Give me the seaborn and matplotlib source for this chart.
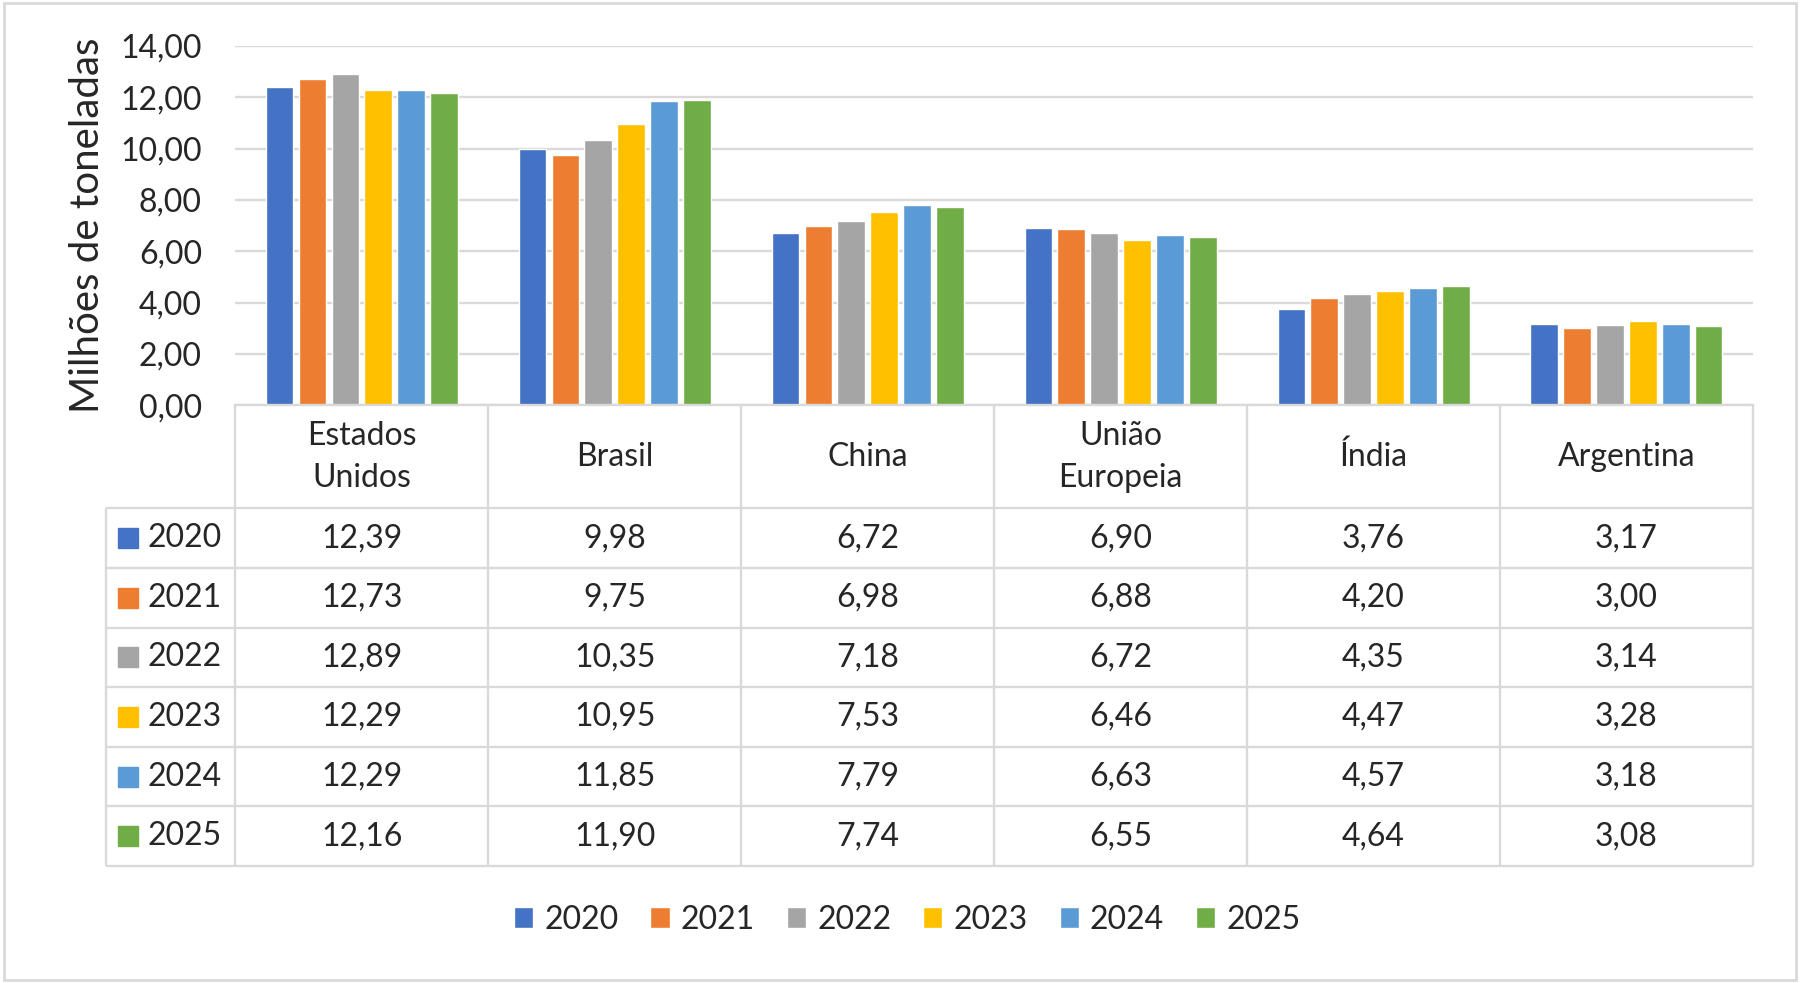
import matplotlib
matplotlib.use("Agg")
import matplotlib.pyplot as plt
import seaborn as sns
import pandas as pd
from matplotlib.patches import Rectangle

# dados
paises = ["Estados\nUnidos", "Brasil", "China", "União\nEuropeia", "Índia", "Argentina"]
anos = ["2020", "2021", "2022", "2023", "2024", "2025"]
v2020 = [12.39, 9.98, 6.72, 6.90, 3.76, 3.17]
v2021 = [12.73, 9.75, 6.98, 6.88, 4.20, 3.00]
v2022 = [12.89, 10.35, 7.18, 6.72, 4.35, 3.14]
v2023 = [12.29, 10.95, 7.53, 6.46, 4.47, 3.28]
v2024 = [12.29, 11.85, 7.79, 6.63, 4.57, 3.18]
v2025 = [12.16, 11.90, 7.74, 6.55, 4.64, 3.08]
y_ticks = [0, 2, 4, 6, 8, 10, 12, 14]
cores = ["#4472C4", "#ED7D31", "#A5A5A5", "#FFC000", "#5B9BD5", "#70AD47"]

series = [v2020, v2021, v2022, v2023, v2024, v2025]
linhas = []
for ano, vals in zip(anos, series):
    for p, v in zip(paises, vals):
        linhas.append({"pais": p, "ano": ano, "valor": v})
df = pd.DataFrame(linhas)


def fmt(v):
    return f"{v:.2f}".replace(".", ",")


sns.set_style("white")
plt.rcParams["font.family"] = ["Lato", "DejaVu Sans"]
grade = "#d9d9d9"
fs = 23

fig = plt.figure(figsize=(18, 9.83), dpi=100)
fig.patches.append(Rectangle((0.002, 0.003), 0.996, 0.994, transform=fig.transFigure,
                             fill=False, edgecolor=grade, lw=2))

W, H = 1568, 856
ax = fig.add_axes([205 / W, 1 - 353 / H, 1322 / W, 313 / H])
sns.barplot(data=df, x="pais", y="valor", hue="ano", palette=cores, width=0.78,
            gap=0.16, saturation=1, ax=ax)
ax.set_ylim(0, 14)
ax.set_xlim(-0.5, 5.5)
ax.set_yticks(y_ticks)
ax.set_yticklabels([fmt(t) for t in y_ticks], fontsize=fs)
ax.tick_params(axis="y", length=0, pad=24)
ax.set_xticks([])
ax.set_xlabel("")
ax.set_ylabel("Milhões de toneladas", fontsize=29, labelpad=10)
ax.yaxis.grid(True, color=grade, lw=1.7)
ax.set_axisbelow(True)
for s in ["left", "top", "right"]:
    ax.spines[s].set_visible(False)
ax.spines["bottom"].set_color(grade)
ax.spines["bottom"].set_linewidth(1.7)

leg = ax.get_legend()
handles = leg.legend_handles
leg.remove()
fig.legend(handles, anos, loc="center", bbox_to_anchor=(0.504, 1 - 801 / H), ncol=6,
           frameon=False, fontsize=fs, handlelength=0.6, handleheight=0.6,
           handletextpad=0.35, columnspacing=1.0)

# tabela de dados
cat_px = 1322 / 6
left_col = (205 - 92) / cat_px
hdr = 90 / 52
tab = fig.add_axes([92 / W, 1 - 754 / H, (1527 - 92) / W, (754 - 353) / H])
tab.set_xlim(-0.5 - left_col, 5.5)
tab.set_ylim(6, -hdr)
tab.axis("off")

kw = dict(color=grade, lw=1.7, solid_capstyle="butt", clip_on=False)
for r in range(7):
    tab.plot([-0.5 - left_col, 5.5], [r, r], **kw)
for c in range(7):
    tab.plot([c - 0.5, c - 0.5], [-hdr, 6], **kw)
tab.plot([-0.5 - left_col, -0.5 - left_col], [0, 6], **kw)

for i, p in enumerate(paises):
    tab.text(i, -hdr / 2, p, ha="center", va="center", fontsize=fs, linespacing=1.5)

for r, (ano, vals) in enumerate(zip(anos, series)):
    yc = r + 0.5
    tab.plot(-0.5 - left_col + 0.088, yc, marker="s", ms=14, color=cores[r],
             ls="none", clip_on=False)
    tab.text(-0.5 - left_col + 0.165, yc, ano, ha="left", va="center", fontsize=fs)
    for i, v in enumerate(vals):
        tab.text(i, yc, fmt(v), ha="center", va="center", fontsize=fs)

fig.savefig("out.png", dpi=100)
